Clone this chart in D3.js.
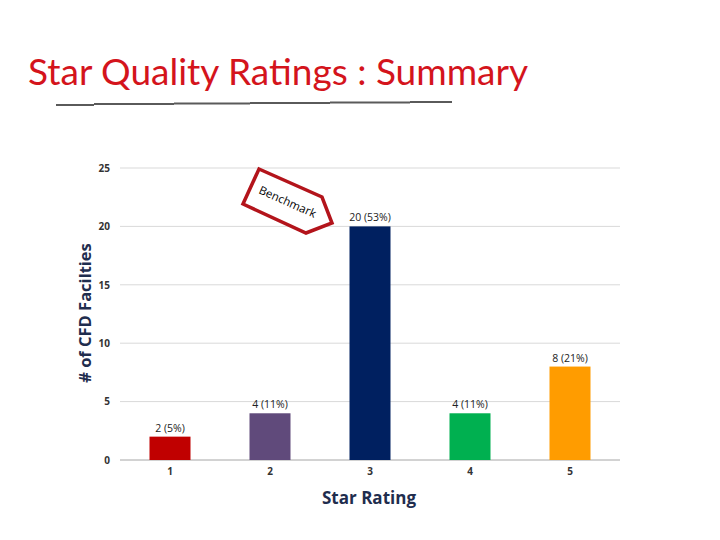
<!DOCTYPE html>
<html>
<head>
<meta charset="utf-8">
<script src="https://cdn.jsdelivr.net/npm/d3@7"></script>
<style>
  body { margin: 0; background: #fff; }
</style>
</head>
<body>
<div id="chart"></div>
<script>
const ratings = ["1", "2", "3", "4", "5"];
const counts = [2, 4, 20, 4, 8];
const labels = ["2 (5%)", "4 (11%)", "20 (53%)", "4 (11%)", "8 (21%)"];
const colors = ["#c00000", "#604a7b", "#002060", "#00b050", "#ff9c00"];
const yTicks = [0, 5, 10, 15, 20, 25];

const width = 720, height = 540;

const svg = d3.select("#chart").append("svg")
    .attr("width", width)
    .attr("height", height);

svg.append("rect")
    .attr("width", width)
    .attr("height", height)
    .attr("fill", "#fff");

// Title
svg.append("text")
    .attr("x", 28)
    .attr("y", 85)
    .attr("font-family", "Lato, sans-serif")
    .attr("font-size", "37px")
    .attr("fill", "#d4141c")
    .text("Star Quality Ratings : Summary");

// rough underline made of a few segments
const ruleSegs = [[56, 105, 94, 105], [94, 104, 174, 104], [174, 103.5, 250, 103.5],
    [250, 103, 330, 103], [330, 102.5, 410, 102.5], [410, 102, 452, 102]];
svg.selectAll(".rule").data(ruleSegs).enter().append("line")
    .attr("x1", d => d[0]).attr("y1", d => d[1])
    .attr("x2", d => d[2]).attr("y2", d => d[3])
    .attr("stroke", "#5a5a5a")
    .attr("stroke-width", 2);

// scales
const x = d3.scaleBand()
    .domain(ratings)
    .range([120, 620])
    .paddingInner(0.59)
    .paddingOuter(0.295);

const y = d3.scaleLinear()
    .domain([0, 25])
    .range([460, 168]);

// gridlines
svg.append("g")
    .selectAll("line")
    .data(yTicks)
    .enter().append("line")
    .attr("x1", 120)
    .attr("x2", 620)
    .attr("y1", d => y(d))
    .attr("y2", d => y(d))
    .attr("stroke", d => d === 0 ? "#a6a6a6" : "#d9d9d9")
    .attr("stroke-width", 1);

// y tick labels
const yAxis = svg.append("g")
    .attr("transform", "translate(110,0)")
    .call(d3.axisLeft(y).tickValues(yTicks).tickSize(0).tickPadding(0));
yAxis.select(".domain").remove();
yAxis.selectAll("text")
    .attr("font-family", "Open Sans, sans-serif")
    .attr("font-size", "10px")
    .attr("font-weight", "bold")
    .attr("fill", "#333");

// x tick labels
const xAxis = svg.append("g")
    .attr("transform", "translate(0,468)")
    .call(d3.axisBottom(x).tickSize(0).tickPadding(0));
xAxis.select(".domain").remove();
xAxis.selectAll("text")
    .attr("font-family", "Open Sans, sans-serif")
    .attr("font-size", "10px")
    .attr("font-weight", "bold")
    .attr("fill", "#333");

// bars
svg.selectAll(".bar")
    .data(counts)
    .enter().append("rect")
    .attr("x", (d, i) => x(ratings[i]))
    .attr("y", d => y(d))
    .attr("width", x.bandwidth())
    .attr("height", d => y(0) - y(d))
    .attr("fill", (d, i) => colors[i]);

// data labels
svg.selectAll(".lbl")
    .data(counts)
    .enter().append("text")
    .attr("x", (d, i) => x(ratings[i]) + x.bandwidth() / 2)
    .attr("y", d => y(d) - 5)
    .attr("text-anchor", "middle")
    .attr("font-family", "Open Sans, sans-serif")
    .attr("font-size", "10.5px")
    .attr("fill", "#222")
    .text((d, i) => labels[i]);

// axis titles
svg.append("text")
    .attr("transform", "translate(91,313) rotate(-90)")
    .attr("text-anchor", "middle")
    .attr("font-family", "Open Sans, sans-serif")
    .attr("font-size", "16.5px")
    .attr("font-weight", "bold")
    .attr("fill", "#1f2d4e")
    .text("# of CFD Facilties");

svg.append("text")
    .attr("x", 369)
    .attr("y", 504)
    .attr("text-anchor", "middle")
    .attr("font-family", "Open Sans, sans-serif")
    .attr("font-size", "17px")
    .attr("font-weight", "bold")
    .attr("fill", "#1f2d4e")
    .text("Star Rating");

// Benchmark callout
svg.append("polygon")
    .attr("points", "259,169 322,197 332,223 306,233 243,204")
    .attr("fill", "#fff")
    .attr("stroke", "#b3141b")
    .attr("stroke-width", 3.5)
    .attr("stroke-linejoin", "miter");

svg.append("text")
    .attr("transform", "translate(258,193) rotate(24)")
    .attr("font-family", "Open Sans, sans-serif")
    .attr("font-size", "11.5px")
    .attr("fill", "#000")
    .text("Benchmark");
</script>
</body>
</html>
